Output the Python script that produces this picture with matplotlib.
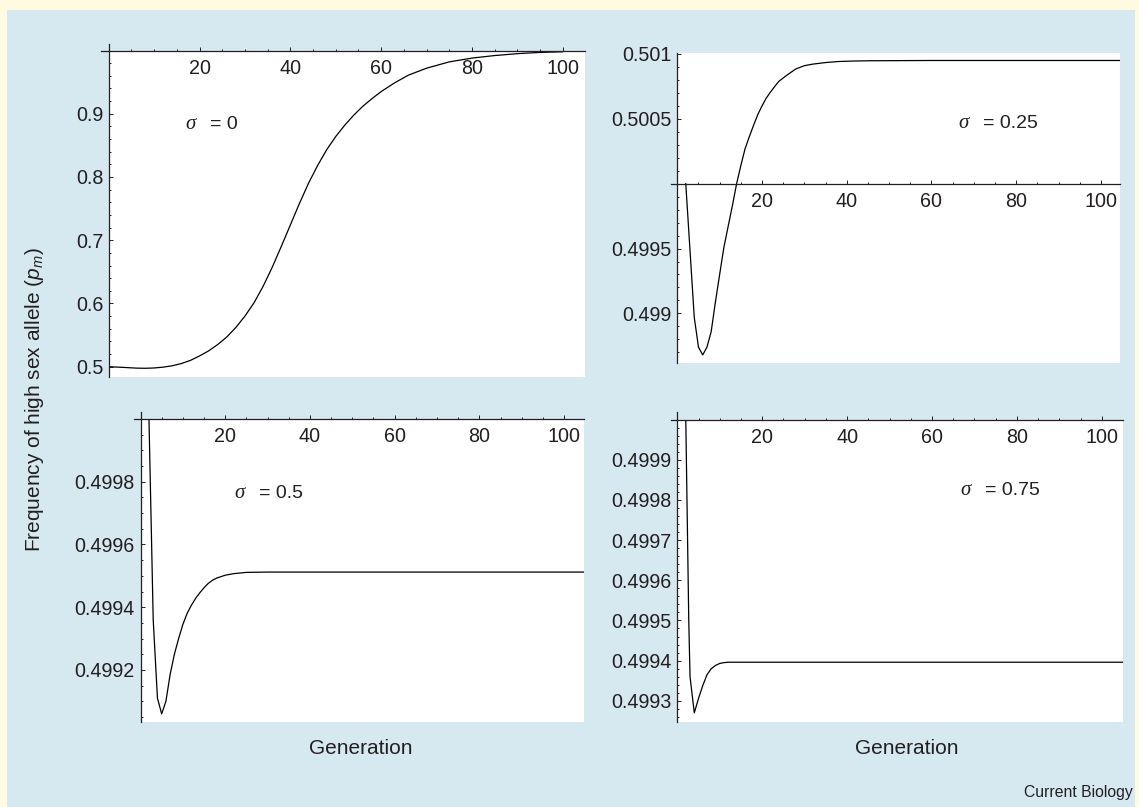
import matplotlib
matplotlib.use("Agg")
import matplotlib.pyplot as plt
from matplotlib.patches import Rectangle
from matplotlib.ticker import MultipleLocator

plt.rcParams['font.family'] = ['Liberation Sans', 'DejaVu Sans']
plt.rcParams['mathtext.fontset'] = 'custom'
plt.rcParams['mathtext.rm'] = 'Liberation Sans'
plt.rcParams['mathtext.it'] = 'Liberation Sans:italic'

# ---- data ----
# sigma = 0
gen_s0 = [0, 3, 6, 8, 10, 12, 14, 16, 18, 20, 22, 24, 26, 28, 30, 32, 34, 36, 38, 40, 42, 44, 46,
          48, 50, 52, 54, 56, 58, 60, 63, 66, 70, 75, 80, 85, 90, 95, 100]
p_s0 = [0.5000, 0.4990, 0.4978, 0.4975, 0.4980, 0.4993, 0.5015, 0.5050, 0.5100, 0.5170, 0.5250,
        0.5350, 0.5470, 0.5620, 0.5800, 0.6010, 0.6270, 0.6570, 0.6900, 0.7240, 0.7580, 0.7900,
        0.8180, 0.8430, 0.8640, 0.8820, 0.8980, 0.9120, 0.9240, 0.9350, 0.9490, 0.9610, 0.9720,
        0.9820, 0.9880, 0.9920, 0.9950, 0.9970, 0.9980]

# sigma = 0.25
gen_s25 = [2, 4, 5, 6, 7, 8, 9, 10, 11, 12, 13, 14, 15, 16, 17, 18, 19, 20, 21, 22, 23, 24, 26, 28,
           30, 32, 35, 38, 42, 46, 60, 110]
p_s25 = [0.500000, 0.498970, 0.498740, 0.498680, 0.498740, 0.498860, 0.499089, 0.499301, 0.499510,
         0.499670, 0.499830, 0.500000, 0.500140, 0.500270, 0.500363, 0.500450, 0.500533, 0.500600,
         0.500660, 0.500707, 0.500750, 0.500790, 0.500840, 0.500885, 0.500910, 0.500922, 0.500934,
         0.500942, 0.500946, 0.500948, 0.500950, 0.500950]

# sigma = 0.5
gen_s50 = [2, 3, 4, 5, 6, 7, 8, 9, 10, 11, 12, 13, 14, 15, 16, 17, 18, 20, 22, 25, 30, 110]
p_s50 = [0.500000, 0.499360, 0.499110, 0.499060, 0.499100, 0.499186, 0.499250, 0.499300, 0.499345,
         0.499380, 0.499406, 0.499428, 0.499446, 0.499462, 0.499476, 0.499486, 0.499493, 0.499502,
         0.499507, 0.499511, 0.499512, 0.499512]

# sigma = 0.75
gen_s75 = [2, 2.7, 3, 4, 5, 6, 7, 8, 9, 10, 11, 12, 20, 110]
p_s75 = [0.500000, 0.499500, 0.499360, 0.499270, 0.499306, 0.499338, 0.499365, 0.499380, 0.499388,
         0.499393, 0.499395, 0.499396, 0.499396, 0.499396]

xticks = [20, 40, 60, 80, 100]
yticks_s0 = [0.5, 0.6, 0.7, 0.8, 0.9]
yticks_s25 = [0.499, 0.4995, 0.5005, 0.501]
yticks_s50 = [0.4992, 0.4994, 0.4996, 0.4998]
yticks_s75 = [0.4993, 0.4994, 0.4995, 0.4996, 0.4997, 0.4998, 0.4999]
sigma_labels = ['0', '0.25', '0.5', '0.75']

W, H = 1139, 807
BLUE = '#d6e9f1'
YELLOW = '#fffbe1'
INK = '#231f20'

fig = plt.figure(figsize=(W / 100, H / 100), dpi=100, facecolor=YELLOW)
fig.patches.append(Rectangle((7 / W, 0), (1135 - 7) / W, (H - 10) / H,
                             transform=fig.transFigure, facecolor=BLUE, edgecolor='none', zorder=-5))


def px_axes(l, t, r, b):
    return fig.add_axes([l / W, 1 - b / H, (r - l) / W, (b - t) / H])


panels = [
    # box (px), x max, y limits, x-axis height, y-axis overshoot, yticks, y minor, curve, sigma text pos
    dict(box=(108.7, 50.5, 585, 376.7), xmax=104.9, ylim=(0.4842, 1.0), xaxis_y=1.0, ytop_ext=0.011,
         yticks=yticks_s0, yminor=0.02, gen=gen_s0, p=p_s0, lab=(16.8, 0.883), sig=sigma_labels[0]),
    dict(box=(677.3, 52.7, 1120, 362.7), xmax=104.5, ylim=(0.49862, 0.50101), xaxis_y=0.5, ytop_ext=0.0,
         yticks=yticks_s25, yminor=0.0001, gen=gen_s25, p=p_s25, lab=(66.3, 0.500466), sig=sigma_labels[1]),
    dict(box=(140.5, 419, 584.4, 721.7), xmax=104.8, ylim=(0.499035, 0.5), xaxis_y=0.5, ytop_ext=0.0000225,
         yticks=yticks_s50, yminor=0.00005, gen=gen_s50, p=p_s50, lab=(22.1, 0.499764), sig=sigma_labels[2]),
    dict(box=(677.3, 419.5, 1122.6, 721.7), xmax=104.9, ylim=(0.499248, 0.5), xaxis_y=0.5, ytop_ext=0.0000175,
         yticks=yticks_s75, yminor=0.00002, gen=gen_s75, p=p_s75, lab=(66.7, 0.499823), sig=sigma_labels[3]),
]

for pn in panels:
    ax = px_axes(*pn['box'])
    ax.set_facecolor('white')
    ax.plot(pn['gen'], pn['p'], color='black', lw=0.9)
    ax.set_xlim(0, pn['xmax'])
    ax.set_ylim(*pn['ylim'])

    for s in ('top', 'right'):
        ax.spines[s].set_visible(False)
    ax.spines['bottom'].set_position(('data', pn['xaxis_y']))
    ax.spines['bottom'].set_bounds(-1.6, pn['xmax'])
    ax.spines['left'].set_bounds(pn['ylim'][0], pn['ylim'][1] + pn['ytop_ext'])
    for s in ('bottom', 'left'):
        ax.spines[s].set_color(INK)
        ax.spines[s].set_linewidth(0.9)

    ax.set_xticks(xticks, labels=[str(t) for t in xticks])
    ax.xaxis.set_minor_locator(MultipleLocator(5))
    ax.set_yticks(pn['yticks'], labels=[f'{t:g}' for t in pn['yticks']])
    ax.yaxis.set_minor_locator(MultipleLocator(pn['yminor']))
    ax.tick_params(which='both', direction='in', color=INK, labelcolor=INK, width=0.7,
                   labelsize=14.2, top=False, right=False)
    ax.tick_params(which='major', length=3.2)
    ax.tick_params(which='minor', length=1.6)
    ax.tick_params(axis='x', pad=6)
    ax.tick_params(axis='y', pad=4)

    ax.text(pn['lab'][0], pn['lab'][1], 'σ', family=['Liberation Serif', 'DejaVu Serif'],
            style='italic', fontsize=15, color=INK, ha='left', va='center')
    ax.annotate('= ' + pn['sig'], xy=pn['lab'], xytext=(18, 0), textcoords='offset points',
                fontsize=14, color=INK, ha='left', va='center')

fig.text(35 / W, 1 - 400 / H, r'Frequency of high sex allele ($p_m$)', rotation=90,
         ha='center', va='center', fontsize=15, color=INK)
fig.text(361 / W, 1 - 749 / H, 'Generation', ha='center', va='center', fontsize=15, color=INK)
fig.text(907 / W, 1 - 749 / H, 'Generation', ha='center', va='center', fontsize=15, color=INK)
fig.text(1133 / W, 1 - 793 / H, 'Current Biology', ha='right', va='center', fontsize=11.3, color=INK)

fig.savefig('out.png', dpi=100, facecolor=YELLOW)
